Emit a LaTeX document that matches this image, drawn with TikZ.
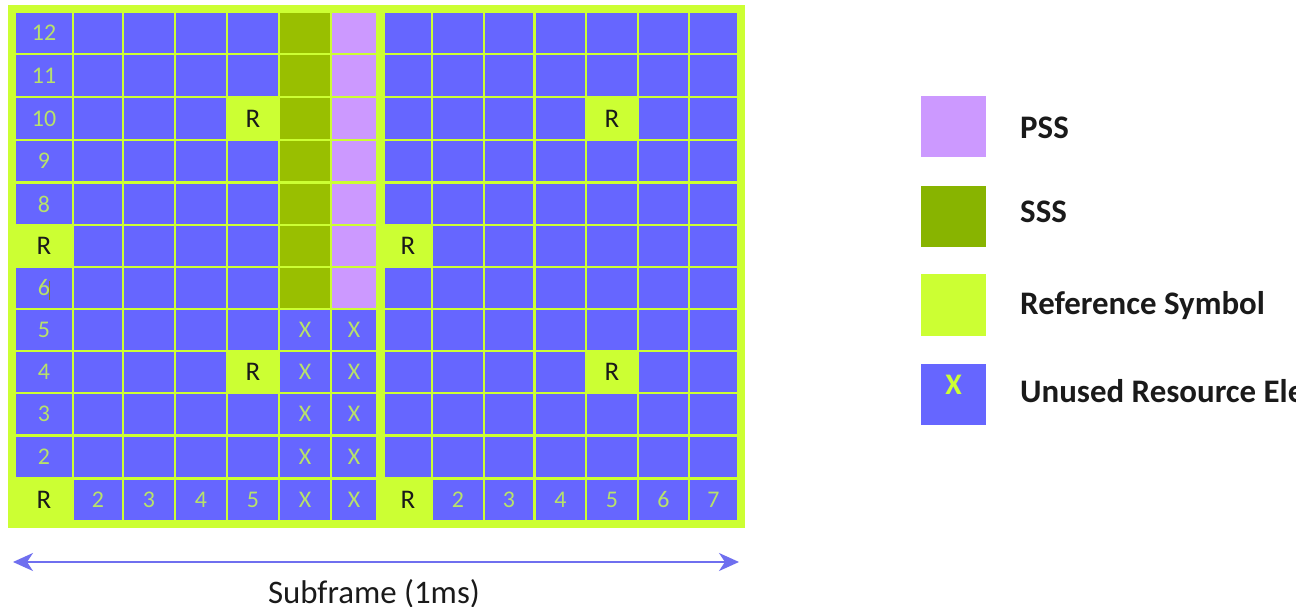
\documentclass[tikz,border=0pt]{standalone}
\usepackage{fontspec}
\setmainfont{Carlito}
\usetikzlibrary{arrows.meta}
\definecolor{bg}{HTML}{CCFF33}
\definecolor{re}{HTML}{6666FF}
\definecolor{sss}{HTML}{99BF00}
\definecolor{sssl}{HTML}{88B400}
\definecolor{pss}{HTML}{CC99FF}
\definecolor{lbl}{HTML}{B8E26A}
\definecolor{arr}{HTML}{6F6FEF}
\definecolor{ink}{HTML}{1A1A1A}
\definecolor{caret}{HTML}{8A7A20}
\begin{document}
\begin{tikzpicture}[x=1bp,y=-1bp,
  cell/.style={draw=none,fill=re,inner sep=0pt,outer sep=0pt,rectangle},
  numl/.style={text=lbl,font=\fontsize{24}{24}\selectfont,inner sep=0pt},
  rl/.style={text=ink,font=\fontsize{27}{27}\selectfont,inner sep=0pt},
  legbox/.style={draw=none,inner sep=0pt,minimum width=65bp,minimum height=61bp},
  legtxt/.style={text=ink,font=\bfseries\fontsize{33}{33}\selectfont,anchor=base west,inner sep=0pt}]
\useasboundingbox (0,0) rectangle (1296,607);
\clip (0,0) rectangle (1296,607);
\fill[white] (0,0) rectangle (1296,607);
\fill[bg] (8,5) rectangle (745,528);
% grid of resource elements
\foreach \c/\l/\r in {1/16/72,2/74/122,3/124/174,4/176/226,5/228/278,6/280/330,7/332/376,
  8/385/431,9/433/483,10/485/533,11/536/585,12/587/637,13/639/688,14/690/737}{
  \foreach \rw/\t/\b in {12/13/53,11/55/96,10/98/139,9/141/181,8/184/224,7/226/266,
    6/268/308,5/310/350,4/352/392,3/394/434,2/437/477,1/480/520}{
    \node[cell,minimum width={\r bp-\l bp},minimum height={\b bp-\t bp}]
      (c\c-\rw) at ({(\l+\r)/2},{(\t+\b)/2}) {};
  }
}
% SSS and PSS columns
\foreach \rw in {6,...,12}{
  \fill[sss] (c6-\rw.south west) rectangle (c6-\rw.north east);
  \fill[pss] (c7-\rw.south west) rectangle (c7-\rw.north east);
}
% reference symbols
\foreach \c/\rw in {1/7,1/1,5/10,5/4,12/10,12/4,8/7,8/1}{
  \fill[bg] ([shift={(-1,1)}]c\c-\rw.south west) rectangle ([shift={(1,-1)}]c\c-\rw.north east);
  \node[rl] (r\c-\rw) at (c\c-\rw) {R};
}
% labels
\foreach \rw in {12,11,10,9,8,6,5,4,3,2}{
  \node[numl] (n1-\rw) at (c1-\rw) {\rw};
}
\draw[caret,line width=1bp] (49,281) -- (49,300);
\foreach \c/\t in {2/2,3/3,4/4,5/5,9/2,10/3,11/4,12/5,13/6,14/7}{
  \node[numl] (n\c-1) at (c\c-1) {\t};
}
\foreach \rw in {1,...,5}{
  \node[numl] (x6-\rw) at (c6-\rw) {X};
  \node[numl] (x7-\rw) at (c7-\rw) {X};
}
% subframe arrow
\coordinate (aL) at (13,562);
\coordinate (aR) at (739,562);
\draw[arr,line width=2.2bp,{Stealth[length=20bp,width=18bp,inset=6bp]}-{Stealth[length=20bp,width=18bp,inset=6bp]}] (aL) -- (aR);
\node[text=ink,font=\fontsize{33}{33}\selectfont,inner sep=0pt,anchor=base] (sub) at (374,603) {Subframe (1ms)};
% legend
\node[legbox,fill=pss] (lp) at (953.5,126.5) {};
\node[legbox,fill=sssl] (ls) at (953.5,216.5) {};
\node[legbox,fill=bg] (lr) at (953.5,305) {};
\node[legbox,fill=re] (lu) at (953.5,394.5) {};
\node[text=bg,font=\bfseries\fontsize{30}{30}\selectfont,inner sep=0pt] (lx) at (953.5,385) {X};
\node[legtxt] (tp) at (1020,139) {PSS};
\node[legtxt] (ts) at (1020,223) {SSS};
\node[legtxt] (tr) at (1020,315) {Reference Symbol};
\node[legtxt] (tu) at (1020,402) {Unused Resource Elements};
\end{tikzpicture}
\end{document}
